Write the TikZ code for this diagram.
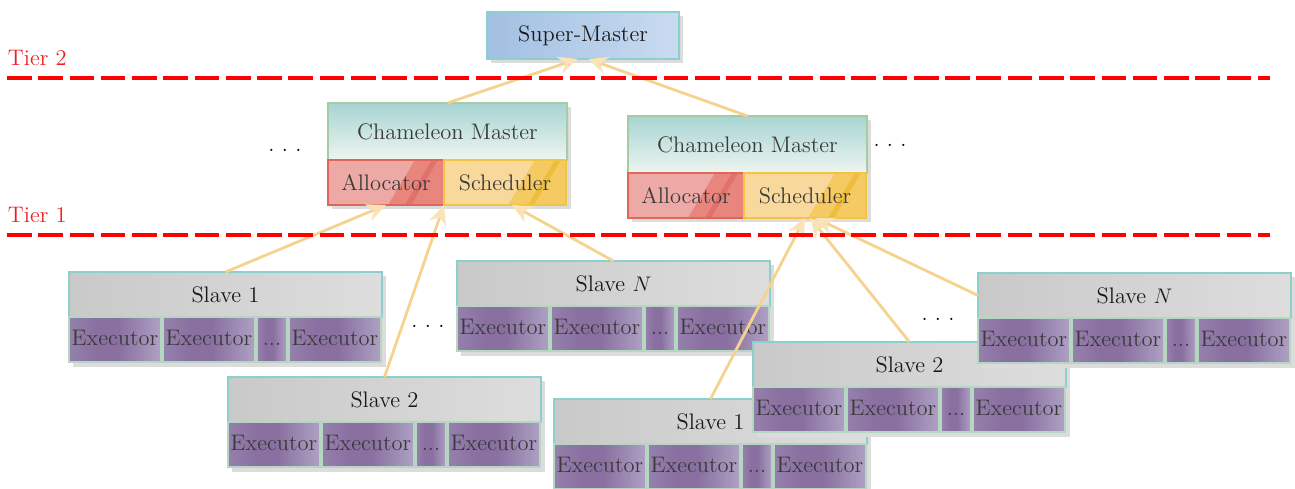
\documentclass[tikz,border=0pt]{standalone}
\usepackage{tikz}
\usetikzlibrary{positioning,calc,arrows.meta}

\definecolor{smleft}{HTML}{A2C0E3}
\definecolor{smright}{HTML}{C9DBF0}
\definecolor{bordteal}{HTML}{8DCFCC}
\definecolor{bordgreen}{HTML}{A6CCA3}
\definecolor{cmtop}{HTML}{A7D4D2}
\definecolor{cmbot}{HTML}{EEF5F0}
\definecolor{alloclight}{HTML}{EDA9A5}
\definecolor{allocmid}{HTML}{E8857C}
\definecolor{allocdark}{HTML}{E2716A}
\definecolor{allocbord}{HTML}{E0665A}
\definecolor{schedlight}{HTML}{F8D99B}
\definecolor{schedmid}{HTML}{F5CA62}
\definecolor{scheddark}{HTML}{EEBD3C}
\definecolor{schedbord}{HTML}{F2C443}
\definecolor{slvleft}{HTML}{C9C9C9}
\definecolor{slvright}{HTML}{DDDDDD}
\definecolor{exA}{HTML}{9580AB}
\definecolor{exB}{HTML}{8A70A1}
\definecolor{exC}{HTML}{AEA1C3}
\definecolor{execbord}{HTML}{B5D6C0}
\definecolor{shadowgrey}{HTML}{DCDCDC}
\definecolor{txtgrey}{HTML}{3A3A3A}
\definecolor{linkorange}{HTML}{F6D28F}
\definecolor{tipfill}{HTML}{FBE3B8}
\definecolor{tierred}{HTML}{F01E1E}

\pgfdeclarehorizontalshading{execshade}{100bp}{color(0bp)=(exA); color(25bp)=(exA); color(40bp)=(exB); color(52bp)=(exB); color(75bp)=(exC); color(100bp)=(exC)}

\tikzset{
  base/.style={font=\fontsize{12.8}{15}\selectfont, inner sep=0pt, outer sep=0pt, line width=0.7pt},
  supermaster/.style={base, draw=bordteal, left color=smleft, right color=smright, text=black!90,
    minimum width=3.84cm, minimum height=0.94cm},
  cmhead/.style={base, draw=bordgreen, top color=cmtop, bottom color=cmbot, text=txtgrey,
    minimum width=4.78cm, minimum height=1.14cm},
  allocbox/.style={base, draw=allocbord, fill=alloclight, text=txtgrey,
    minimum width=2.32cm, minimum height=0.9cm,
    path picture={
      \fill[allocmid] ([xshift=-0.58cm]path picture bounding box.north east) -- (path picture bounding box.north east)
        -- (path picture bounding box.south east) -- ([xshift=-1.12cm]path picture bounding box.south east) -- cycle;
      \fill[allocdark] ([xshift=-0.24cm]path picture bounding box.north east) -- ([xshift=-0.12cm]path picture bounding box.north east)
        -- ([xshift=-0.66cm]path picture bounding box.south east) -- ([xshift=-0.78cm]path picture bounding box.south east) -- cycle;
    }},
  schedbox/.style={base, draw=schedbord, fill=schedlight, text=txtgrey,
    minimum width=2.44cm, minimum height=0.9cm,
    path picture={
      \fill[schedmid] ([xshift=-0.62cm]path picture bounding box.north east) -- (path picture bounding box.north east)
        -- (path picture bounding box.south east) -- ([xshift=-1.16cm]path picture bounding box.south east) -- cycle;
      \fill[scheddark] ([xshift=-0.22cm]path picture bounding box.north east) -- ([xshift=-0.1cm]path picture bounding box.north east)
        -- ([xshift=-0.64cm]path picture bounding box.south east) -- ([xshift=-0.76cm]path picture bounding box.south east) -- cycle;
    }},
  slavehead/.style={base, draw=bordteal, left color=slvleft, right color=slvright, text=black!90,
    minimum width=6.26cm, minimum height=0.9cm},
  execbox/.style={base, draw=execbord, shading=execshade, text=txtgrey,
    text height=0.7em, text depth=0.05em,
    minimum width=1.84cm, minimum height=0.9cm},
  dotbox/.style={execbox, minimum width=0.6cm},
  boxshadow/.style={fill=shadowgrey},
  freedots/.style={base, text=black},
  tierlabel/.style={base, text=tierred},
  tierline/.style={draw=red, line width=2.5pt, dash pattern=on 14pt off 3.8pt},
  link/.style={draw=linkorange, line width=1.6pt, -{Stealth[length=11pt,width=10pt,color=tipfill]}}
}

% master with allocator and scheduler: name, x, y
\newcommand{\chamgroup}[3]{
  \fill[boxshadow] (#2+4,#3+4) rectangle ++(239,102);
  \node[cmhead, anchor=north west] (#1) at (#2,#3) {Chameleon Master};
  \node[allocbox, anchor=north west] (#1-alloc) at (#1.south west) {Allocator};
  \node[schedbox, anchor=north west] (#1-sched) at (#1-alloc.north east) {Scheduler};
}

% slave with its executors: name, x, y, label
\newcommand{\slavegroup}[4]{
  \fill[boxshadow] (#2+4,#3+4) rectangle ++(313,91);
  \node[slavehead, anchor=north west] (#1) at (#2,#3) {#4};
  \node[execbox, anchor=north west] (#1-a) at (#1.south west) {Executor};
  \node[execbox, right=0.04cm of #1-a] (#1-b) {Executor};
  \node[dotbox, right=0.04cm of #1-b] (#1-c) {...};
  \node[execbox, right=0.04cm of #1-c] (#1-d) {Executor};
}

\begin{document}
\begin{tikzpicture}[x=0.02cm, y=-0.02cm]
  \useasboundingbox (0,0) rectangle (1295,489);

  % tier 2
  \fill[boxshadow] (491,16) rectangle ++(192,47);
  \node[supermaster, anchor=north west] (sm) at (487,12) {Super-Master};

  % tier 1
  \chamgroup{cmL}{328}{103}
  \chamgroup{cmR}{628}{116}
  \node[freedots] (dotsL) at (285,150) {.\ .\ .};
  \node[freedots] (dotsR) at (890,145) {.\ .\ .};

  % slaves
  \slavegroup{slaveA1}{69}{272}{Slave 1}
  \slavegroup{slaveA2}{228}{377}{Slave 2}
  \slavegroup{slaveAN}{457}{261}{Slave $N$}
  \slavegroup{slaveB1}{554}{399}{Slave 1}
  \slavegroup{slaveB2}{753}{342}{Slave 2}
  \slavegroup{slaveBN}{978}{273}{Slave $N$}
  \node[freedots] (dotsA) at (428,326) {.\ .\ .};
  \node[freedots] (dotsB) at (938,319) {.\ .\ .};

  \draw[link] (cmL.north) -- ([xshift=-3pt]sm.south);
  \draw[link] (cmR.north) -- ([xshift=3pt]sm.south);
  \draw[link] (slaveA1.north) -- (cmL-alloc.south);
  \draw[link] (slaveA2.north) -- (cmL-sched.south west);
  \draw[link] (slaveAN.north) -- ([xshift=4pt]cmL-sched.south);
  \draw[link] (slaveB1.north) -- (cmR-sched.south);
  \draw[link] (slaveB2.north) -- ([xshift=3pt]cmR-sched.south);
  \draw[link] (slaveBN.west) -- ([xshift=6pt]cmR-sched.south);

  % tier borders
  \coordinate (t2a) at (7,78);
  \coordinate (t2b) at (1270,78);
  \coordinate (t1a) at (7,235);
  \coordinate (t1b) at (1270,235);
  \draw[tierline] (t2a) -- (t2b);
  \draw[tierline] (t1a) -- (t1b);
  \node[tierlabel, anchor=base west] (tier2) at (8,66) {Tier 2};
  \node[tierlabel, anchor=base west] (tier1) at (8,223) {Tier 1};
\end{tikzpicture}
\end{document}
